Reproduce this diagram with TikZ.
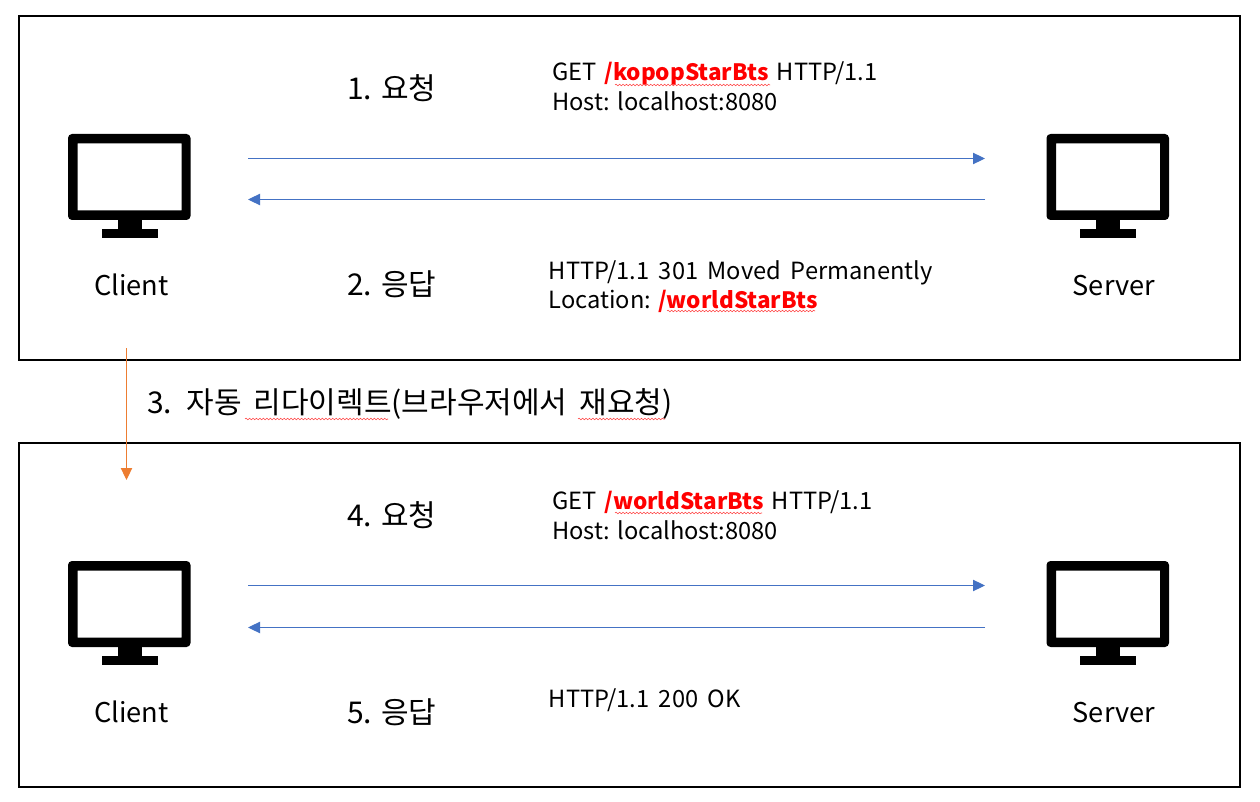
\documentclass[tikz,border=0pt]{standalone}
\usepackage{fontspec}
\setmainfont{Noto Sans CJK KR}
\usetikzlibrary{arrows.meta,decorations.pathmorphing}
\definecolor{flowblue}{HTML}{4472C4}
\definecolor{floworange}{HTML}{ED7D31}
\definecolor{hotred}{HTML}{FF0000}
\tikzset{
  x=0.75pt,y=-0.75pt,
  frame/.style={draw=black,line width=1.9pt,fill=white,inner sep=0pt,outer sep=0pt,minimum width=915.75pt,minimum height=258pt,anchor=north west},
  txt/.style={anchor=base west,inner sep=0pt,text=black},
  msgtxt/.style={txt,font=\fontsize{17.75}{22}\selectfont},
  steptxt/.style={txt,font=\fontsize{22.5}{26}\selectfont},
  hosttxt/.style={txt,font=\fontsize{20.4}{24}\selectfont},
  msg/.style={line width=0.75pt,draw=flowblue,-{Triangle[length=9pt,width=8.5pt]}},
  redir/.style={line width=0.75pt,draw=floworange,-{Triangle[length=9pt,width=8.5pt]}},
  squig/.style={draw=hotred!75,line width=0.4pt,decorate,decoration={snake,segment length=2.6pt,amplitude=0.6pt}},
  pics/monitor/.style={code={
    \fill[black,rounded corners=3pt,even odd rule] (0,0) rectangle (122.5,86)
      [sharp corners] (9.5,9.5) rectangle (113.5,76.5);
    \fill[black] (49.5,86) rectangle (73.5,96);
    \fill[black] (33.5,95) rectangle (89.5,104);
  }}
}
\newcommand{\hot}[1]{{\fontsize{16.9}{22}\selectfont\textcolor{hotred}{\textbf{#1}}}}
\newcommand{\widesp}{\spaceskip=0.4em\relax}
\newcommand{\midsp}{\spaceskip=0.33em\relax}
\begin{document}
\begin{tikzpicture}
\useasboundingbox (0,0) rectangle (1260,802);
\fill[white] (0,0) rectangle (1260,802);
\node[frame] (boxA) at (19,16) {};
\node[frame] (boxB) at (19,443) {};

\pic at (68,134) {monitor};
\pic at (1046.5,134) {monitor};
\pic at (68,561) {monitor};
\pic at (1046.5,561) {monitor};

\coordinate (a1l) at (248,158.5); \coordinate (a1r) at (985,158.5);
\coordinate (a2r) at (985,199.5); \coordinate (a2l) at (248,199.5);
\coordinate (b1l) at (248,585.5); \coordinate (b1r) at (985,585.5);
\coordinate (b2r) at (985,627.5); \coordinate (b2l) at (248,627.5);
\draw[msg] (a1l) -- (a1r);
\draw[msg] (a2r) -- (a2l);
\draw[msg] (b1l) -- (b1r);
\draw[msg] (b2r) -- (b2l);
\coordinate (rs) at (126.5,348); \coordinate (re) at (126.5,480);
\draw[redir] (rs) -- (re);

\node[hosttxt] (c1) at (94,295.5) {Client};
\node[hosttxt] (s1) at (1072.5,295.5) {Server};
\node[hosttxt] (c2) at (94,722.5) {Client};
\node[hosttxt] (s2) at (1072.5,722.5) {Server};

\node[steptxt] (t1) at (347,99.5) {1. 요청};
\node[steptxt] (t2) at (347,296) {2. 응답};
\node[steptxt] (t4) at (347,526.5) {4. 요청};
\node[steptxt] (t5) at (347,723) {5. 응답};
\node[steptxt] (t3) at (147,413) {\widesp 3. 자동 리다이렉트(브라우저에서 재요청)};

\node[msgtxt] (g1) at (552,81) {\midsp GET \hot{/kopopStarBts} HTTP/1.1};
\node[msgtxt] (h1) at (552,111) {Host: localhost:8080};
\node[msgtxt] (r1) at (548.5,280) {\widesp HTTP/1.1 301 Moved Permanently};
\node[msgtxt] (l1) at (548.5,309) {Location: \hot{/worldStarBts}};
\node[msgtxt] (g2) at (552,509) {\midsp GET \hot{/worldStarBts} HTTP/1.1};
\node[msgtxt] (h2) at (552,539) {Host: localhost:8080};
\node[msgtxt] (r2) at (548.5,707) {\widesp HTTP/1.1 200 OK};

\draw[squig] (615,85) -- (770,85);
\draw[squig] (667,311) -- (815,311);
\draw[squig] (615,513) -- (762,513);
\draw[squig] (245,419) -- (388,419);
\draw[squig] (578,419) -- (665,419);
\end{tikzpicture}
\end{document}
